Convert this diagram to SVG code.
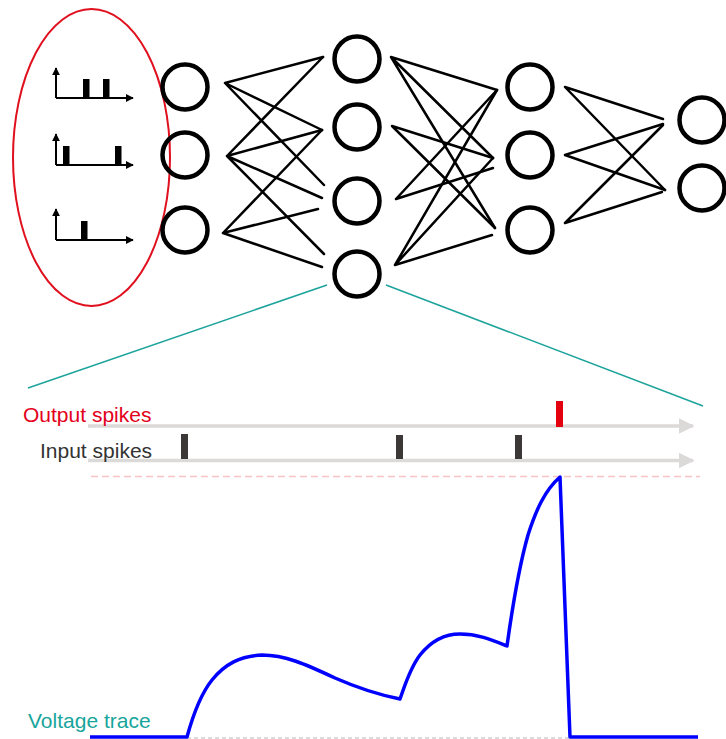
<svg xmlns="http://www.w3.org/2000/svg" width="726" height="739" viewBox="0 0 726 739">
  <defs>
    <style>
      .neuron { fill: none; stroke: #000; stroke-width: 4.5; }
      .syn { stroke: #000; stroke-width: 2.5; fill: none; stroke-linecap: round; }
      .axis { stroke: #000; stroke-width: 2; fill: none; }
      .bar { fill: #000; }
      .zoom { stroke: #1ba39c; stroke-width: 1.5; fill: none; }
      .timeline { stroke: #dcd9d9; stroke-width: 3.5; fill: none; }
      .label { font-family: "Liberation Sans", Arial, sans-serif; font-size: 21px; }
      .inspike { fill: #3c3838; }
    </style>
    <marker id="axhead" viewBox="0 0 10 10" refX="9" refY="5" markerWidth="4" markerHeight="4" orient="auto" markerUnits="strokeWidth">
      <path d="M0,0 L10,5 L0,10 z" fill="#000"/>
    </marker>
    <marker id="timehead" viewBox="0 0 10 10" refX="9" refY="5" markerWidth="4.5" markerHeight="4.5" orient="auto" markerUnits="strokeWidth">
      <path d="M0,0 L10,5 L0,10 z" fill="#dcd9d9"/>
    </marker>
  </defs>
  <rect width="726" height="739" fill="#fff"/>

  <!-- input spike trains -->
  <g id="input-group">
    <ellipse cx="91.5" cy="157.5" rx="78.5" ry="148.5" fill="none" stroke="#e0101e" stroke-width="2"/>
    <g id="train1">
      <path class="axis" d="M56,98 V68" marker-end="url(#axhead)"/>
      <path class="axis" d="M56,98 H133" marker-end="url(#axhead)"/>
      <rect class="bar" x="83" y="79" width="6.5" height="19"/>
      <rect class="bar" x="103" y="79" width="6.5" height="19"/>
    </g>
    <g id="train2">
      <path class="axis" d="M56,165 V134" marker-end="url(#axhead)"/>
      <path class="axis" d="M56,165 H133" marker-end="url(#axhead)"/>
      <rect class="bar" x="63" y="146" width="6.5" height="19"/>
      <rect class="bar" x="115" y="146" width="6.5" height="19"/>
    </g>
    <g id="train3">
      <path class="axis" d="M56,240 V209" marker-end="url(#axhead)"/>
      <path class="axis" d="M56,240 H133" marker-end="url(#axhead)"/>
      <rect class="bar" x="81" y="221" width="6.5" height="19"/>
    </g>
  </g>

  <!-- synapses -->
  <g id="connectors">
    <!-- layer 1 to layer 2 -->
    <path class="syn" d="M225,83 L323,57 M225,83 L322,130 M225,83 L324,185"/>
    <path class="syn" d="M227,156 L323,57 M227,156 L322,130 M227,156 L322,198 M227,156 L324,254"/>
    <path class="syn" d="M223,233 L322,130 M223,233 L318,209 M223,233 L322,267"/>
    <!-- layer 2 to layer 3 -->
    <path class="syn" d="M391,57 L497,90 M391,57 L493,158 M391,57 L495,228"/>
    <path class="syn" d="M392,126 L493,158 M392,126 L495,228"/>
    <path class="syn" d="M396,199 L497,90 M396,199 L493,168"/>
    <path class="syn" d="M395,265 L497,90 M395,265 L493,158 M395,265 L492,235"/>
    <!-- layer 3 to layer 4 -->
    <path class="syn" d="M565,87 L663,119 M565,87 L665,190"/>
    <path class="syn" d="M565,155 L663,124 M565,155 L665,190"/>
    <path class="syn" d="M565,223 L663,125 M565,223 L662,192"/>
    <!-- zoom-in guides -->
    <path class="zoom" d="M327,285 L28,388"/>
    <path class="zoom" d="M386,285 L703,406"/>
  </g>

  <!-- neurons -->
  <g id="n1-1"><circle class="neuron" cx="185" cy="87" r="22.5"/></g>
  <g id="n1-2"><circle class="neuron" cx="185" cy="155" r="22.5"/></g>
  <g id="n1-3"><circle class="neuron" cx="185" cy="230" r="22.5"/></g>
  <g id="n2-1"><circle class="neuron" cx="357" cy="59" r="22.5"/></g>
  <g id="n2-2"><circle class="neuron" cx="357" cy="127" r="22.5"/></g>
  <g id="n2-3"><circle class="neuron" cx="357" cy="201" r="22.5"/></g>
  <g id="n2-4"><circle class="neuron" cx="357" cy="274" r="22.5"/></g>
  <g id="n3-1"><circle class="neuron" cx="530" cy="87" r="22.5"/></g>
  <g id="n3-2"><circle class="neuron" cx="530" cy="155" r="22.5"/></g>
  <g id="n3-3"><circle class="neuron" cx="530" cy="230" r="22.5"/></g>
  <g id="n4-1"><circle class="neuron" cx="702" cy="120" r="22.5"/></g>
  <g id="n4-2"><circle class="neuron" cx="702" cy="188" r="22.5"/></g>

  <!-- single neuron detail -->
  <g id="output-spikes">
    <path class="timeline" d="M88,426 H693" marker-end="url(#timehead)"/>
    <rect x="556" y="401" width="7" height="26" fill="#e3000f"/>
    <text class="label" x="23" y="422" fill="#e3001b">Output spikes</text>
  </g>
  <g id="input-spikes">
    <path class="timeline" d="M88,460.5 H693" marker-end="url(#timehead)"/>
    <rect class="inspike" x="181" y="434" width="7" height="25"/>
    <rect class="inspike" x="396" y="435" width="7" height="24"/>
    <rect class="inspike" x="515" y="435" width="7" height="24"/>
    <text class="label" x="40" y="458" fill="#333">Input spikes</text>
  </g>
  <g id="voltage">
    <path d="M91,476.5 H700" stroke="#f8c4c4" stroke-width="1.5" stroke-dasharray="7,4" fill="none"/>
    <path d="M187,738 H570" stroke="#cfcfcf" stroke-width="1.5" stroke-dasharray="4,3" fill="none"/>
    <path d="M90,737 L187,737 C193,715 200,695 212,680 C225,664 240,656 262,655 C285,655 305,664 335,678 C360,689 380,695 400,699 C405,685 410,668 420,655 C432,640 445,634 460,634 C478,634 492,640 507,646 C512,610 518,570 528,535 C536,510 545,490 560,477 L570,737 L698,737"
          fill="none" stroke="#0000ff" stroke-width="3.5" stroke-linejoin="round"/>
    <text class="label" x="28" y="728" fill="#17a59c">Voltage trace</text>
  </g>
</svg>
